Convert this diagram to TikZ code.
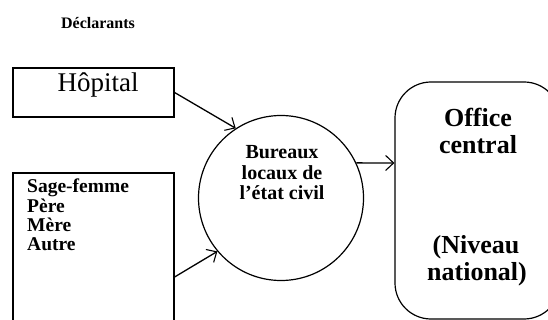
\documentclass[tikz,border=0pt]{standalone}
\usepackage{fontspec}
\setmainfont{Liberation Serif}
\usetikzlibrary{arrows.meta}

\tikzset{
  frame/.style={draw, line width=1.2pt, inner sep=0pt},
  flow/.style={line width=1.3pt, -{Straight Barb[length=8pt, width=15pt, line width=1.1pt]}},
  lbl/.style={font=\bfseries, inner sep=0pt, anchor=base},
  listline/.style={font=\bfseries\fontsize{19.5}{19}\selectfont, inner sep=0pt, anchor=base west},
  circtxt/.style={font=\bfseries\fontsize{20}{20}\selectfont, inner sep=0pt, anchor=base},
  bigtxt/.style={font=\bfseries\fontsize{26}{27}\selectfont, inner sep=0pt, anchor=base}
}

\begin{document}
\begin{tikzpicture}[x=1pt, y=-1pt]
  \clip (0,0) rectangle (548,320);
  \fill[white] (0,0) rectangle (548,320);

  % column heading
  \node[lbl, font=\bfseries\fontsize{16}{18}\selectfont] (declarants) at (98,29) {Déclarants};

  % declarant boxes
  \node[frame, minimum width=161pt, minimum height=49pt] (hopital) at (93.5,92.5) {};
  \node[inner sep=0pt, anchor=base, font=\fontsize{27}{28}\selectfont] (hopitaltxt) at (98,91.5) {Hôpital};

  \node[frame, minimum width=161pt, minimum height=167pt] (autres) at (93.5,256.5) {};
  \node[listline] (sf)    at (27,193) {Sage-femme};
  \node[listline] (pere)  at (27,212) {Père};
  \node[listline] (mere)  at (27,231) {Mère};
  \node[listline] (autre) at (27,250) {Autre};

  % local registry offices
  \node[frame, circle, minimum size=165pt] (bureaux) at (281,198) {};
  \node[circtxt] (bur1) at (282,159) {Bureaux};
  \node[circtxt] (bur2) at (282,179.5) {locaux de};
  \node[circtxt] (bur3) at (282,200) {l’état civil};

  % central office
  \node[frame, rounded corners=36pt, minimum width=165pt, minimum height=237pt] (office) at (477.5,200.5) {};
  \node[bigtxt] (off1) at (478,127) {Office};
  \node[bigtxt] (off2) at (478,154) {central};
  \node[bigtxt] (off3) at (476,253) {(Niveau};
  \node[bigtxt] (off4) at (477,280) {national)};

  % flows
  \draw[flow] (hopital.east) -- (bureaux.123.7);
  \draw[flow] ([yshift=-20.5pt]autres.east) -- (bureaux.220.5);
  \draw[flow] (bureaux.25.3) -- ([yshift=37.5pt]office.west);
\end{tikzpicture}
\end{document}
